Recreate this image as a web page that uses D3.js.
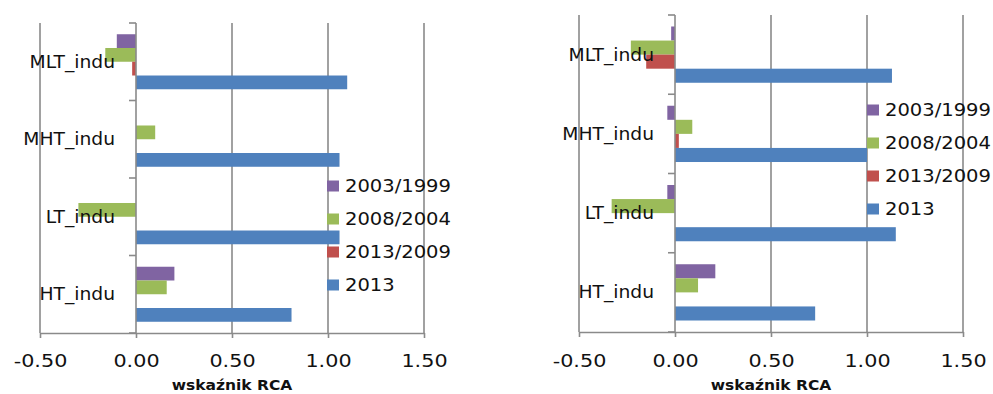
<!DOCTYPE html>
<html>
<head>
<meta charset="utf-8">
<script src="https://cdn.jsdelivr.net/npm/d3@7"></script>
<style>
  body { margin: 0; background: #fff; }
  svg { display: block; }
</style>
</head>
<body>
<svg id="chart" width="993" height="394"></svg>
<script>
// Categories, top to bottom
const categories = ["MLT_indu", "MHT_indu", "LT_indu", "HT_indu"];
const seriesNames = ["2003/1999", "2008/2004", "2013/2009", "2013"];
const seriesColors = ["#8064A2", "#9BBB59", "#C0504D", "#4F81BD"];
const xTicks = [-0.5, 0, 0.5, 1, 1.5];
const xTickLabels = ["-0.50", "0.00", "0.50", "1.00", "1.50"];
const axisTitle = "wskaźnik RCA";

// Left chart: RCA values per series (order follows categories)
const leftChange1999_2003 = [-0.10, 0.00, 0.00, 0.20];
const leftChange2004_2008 = [-0.16, 0.10, -0.30, 0.16];
const leftChange2009_2013 = [-0.02, 0.00, 0.00, 0.00];
const leftLevel2013 = [1.10, 1.06, 1.06, 0.81];

// Right chart
const rightChange1999_2003 = [-0.02, -0.04, -0.04, 0.21];
const rightChange2004_2008 = [-0.23, 0.09, -0.33, 0.12];
const rightChange2009_2013 = [-0.15, 0.02, 0.00, 0.00];
const rightLevel2013 = [1.13, 1.00, 1.15, 0.73];

const FONT = "DejaVu Sans, sans-serif";
const GRID = "#8a8a8a";
const svg = d3.select("#chart");

const panels = [
  {
    values: [leftChange1999_2003, leftChange2004_2008, leftChange2009_2013, leftLevel2013],
    x0: 40, x1: 424, y0: 23, y1: 333,
    legendX: 327, legendY: 186
  },
  {
    values: [rightChange1999_2003, rightChange2004_2008, rightChange2009_2013, rightLevel2013],
    x0: 579, x1: 963, y0: 15, y1: 332,
    legendX: 867, legendY: 110
  }
];

function drawPanel(p) {
  const g = svg.append("g");
  const x = d3.scaleLinear().domain([-0.5, 1.5]).range([p.x0, p.x1]);
  const y = d3.scaleBand().domain(categories).range([p.y0, p.y1])
    .paddingInner(0.29).paddingOuter(0.145);
  const ys = d3.scaleBand().domain(seriesNames).range([0, y.bandwidth()]);

  // vertical gridlines
  g.append("g").selectAll("line")
    .data(xTicks.filter(d => d !== 0))
    .join("line")
    .attr("x1", d => x(d)).attr("x2", d => x(d))
    .attr("y1", p.y0).attr("y2", p.y1)
    .attr("stroke", GRID).attr("stroke-width", 1.6);

  // bars
  seriesNames.forEach((s, i) => {
    g.append("g").selectAll("rect")
      .data(p.values[i])
      .join("rect")
      .attr("x", d => x(Math.min(0, d)))
      .attr("width", d => Math.abs(x(d) - x(0)))
      .attr("y", (d, j) => y(categories[j]) + ys(s))
      .attr("height", ys.bandwidth())
      .attr("fill", seriesColors[i]);
  });

  // x axis
  const xa = g.append("g")
    .attr("transform", `translate(0,${p.y1})`)
    .call(d3.axisBottom(x).tickValues(xTicks).tickSize(5).tickSizeOuter(0)
      .tickFormat((d, i) => xTickLabels[i]));
  xa.select(".domain").attr("stroke", GRID).attr("stroke-width", 1.6);
  xa.selectAll(".tick line").attr("stroke", GRID).attr("stroke-width", 1.6);
  xa.selectAll(".tick text")
    .attr("y", 367 - p.y1).attr("dy", 0)
    .attr("transform", "scale(1.22,1)")
    .style("font-family", FONT).style("font-size", "17px").attr("fill", "#111");

  // y axis line at zero with ticks at category boundaries
  const half = (y.step() - y.bandwidth()) / 2;
  const bounds = categories.map(c => y(c) - half).concat([y(categories[categories.length - 1]) + y.bandwidth() + half]);
  g.append("line")
    .attr("x1", x(0)).attr("x2", x(0)).attr("y1", p.y0).attr("y2", p.y1)
    .attr("stroke", GRID).attr("stroke-width", 1.6);
  g.append("g").selectAll("line").data(bounds).join("line")
    .attr("x1", x(0) - 7).attr("x2", x(0))
    .attr("y1", d => d).attr("y2", d => d)
    .attr("stroke", GRID).attr("stroke-width", 1.6);

  // category labels
  g.append("g").selectAll("text").data(categories).join("text")
    .attr("transform", d => `translate(${x(0) - 21},${y(d) + y.bandwidth() / 2}) scale(1.1,1)`)
    .attr("dy", "0.36em")
    .attr("text-anchor", "end")
    .style("font-family", FONT).style("font-size", "17px").attr("fill", "#111")
    .text(d => d);

  // axis title
  g.append("text")
    .attr("transform", `translate(${(p.x0 + p.x1) / 2},390) scale(1.07,1)`)
    .attr("text-anchor", "middle")
    .style("font-family", FONT).style("font-size", "14.5px").style("font-weight", "bold")
    .attr("fill", "#111")
    .text(axisTitle);

  // legend
  const lg = g.append("g").selectAll("g").data(seriesNames).join("g")
    .attr("transform", (d, i) => `translate(${p.legendX},${p.legendY + i * 33})`);
  lg.append("rect").attr("x", 0).attr("y", -5.5).attr("width", 12).attr("height", 11)
    .attr("fill", (d, i) => seriesColors[i]);
  lg.append("text")
    .attr("transform", "translate(18,0) scale(1.15,1)")
    .attr("dy", "0.36em")
    .style("font-family", FONT).style("font-size", "17px").attr("fill", "#111")
    .text(d => d);
}

panels.forEach(drawPanel);
</script>
</body>
</html>
